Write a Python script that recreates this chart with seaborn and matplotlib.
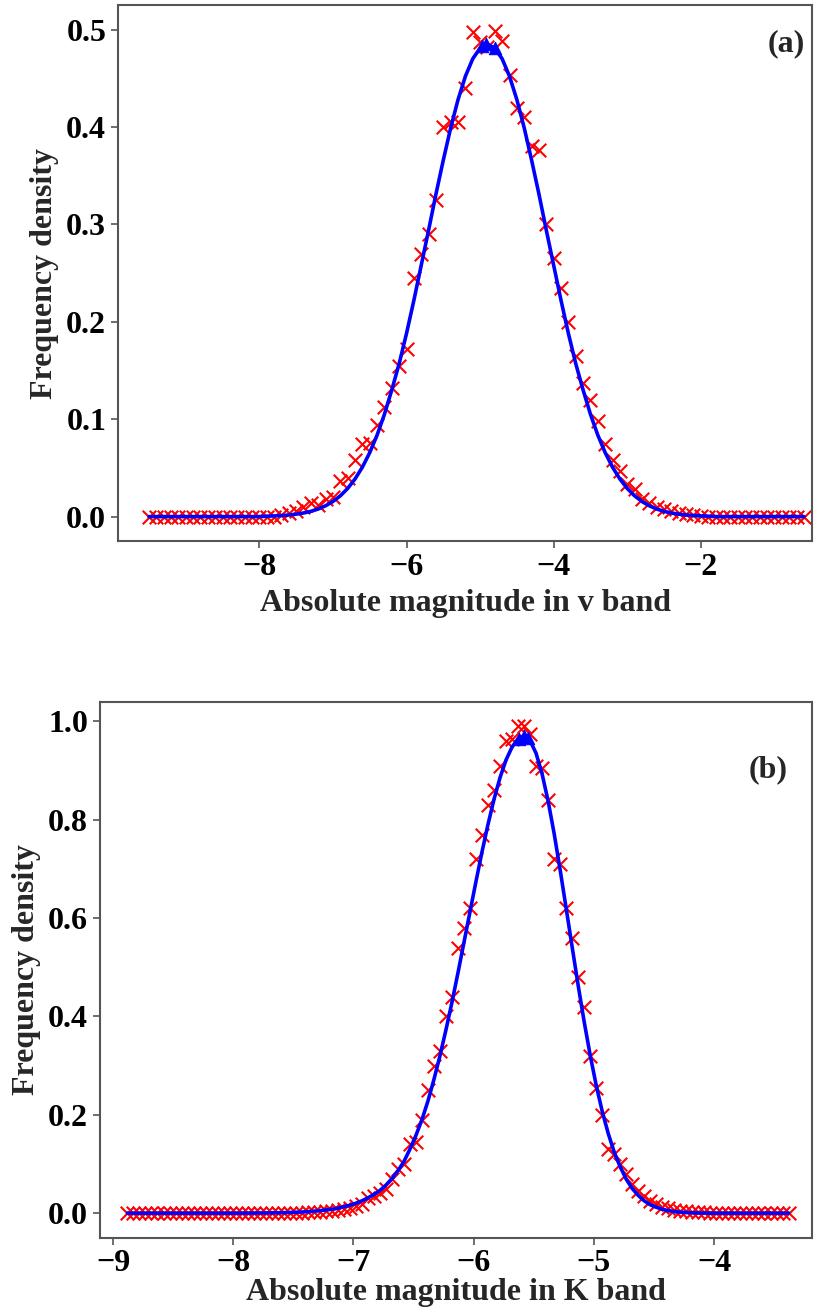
import numpy as np
import pandas as pd
import matplotlib
matplotlib.use("Agg")
import matplotlib.pyplot as plt
import seaborn as sns

sns.set_style("ticks")
plt.rcParams['font.family'] = ['Liberation Serif', 'DejaVu Serif']
plt.rcParams['font.weight'] = 'bold'

# ---------------- Panel (a): V band ----------------
a_x_start, a_x_stop, a_n = -9.5, -0.6, 90
a_points = [0.0]*18 + [
    0.002, 0.004, 0.006, 0.010, 0.014, 0.012, 0.018, 0.020, 0.037, 0.040,
    0.058, 0.075, 0.076, 0.094, 0.113, 0.132, 0.155, 0.172, 0.245, 0.270,
    0.290, 0.325, 0.400, 0.405, 0.405, 0.440, 0.498, 0.487, 0.482, 0.499,
    0.488, 0.453, 0.420, 0.410, 0.380, 0.376, 0.300, 0.266, 0.235, 0.200,
    0.165, 0.137, 0.120, 0.098, 0.075, 0.058, 0.047, 0.033, 0.028, 0.018,
    0.014, 0.010, 0.008, 0.006, 0.004, 0.003, 0.002, 0.001] + [0.0]*14
a_curve = [0.0]*16 + [
    0.0004, 0.0007, 0.0011, 0.0016, 0.0025, 0.0037, 0.0054, 0.0078, 0.0111, 0.0155,
    0.0213, 0.0289, 0.0386, 0.0507, 0.0656, 0.0836, 0.105, 0.130, 0.157, 0.188,
    0.222, 0.258, 0.294, 0.331, 0.366, 0.399, 0.428, 0.452, 0.470, 0.481,
    0.485, 0.481, 0.470, 0.452, 0.428, 0.399, 0.366, 0.331, 0.294, 0.258,
    0.222, 0.188, 0.157, 0.130, 0.105, 0.0836, 0.0656, 0.0507, 0.0386, 0.0289,
    0.0213, 0.0155, 0.0111, 0.0078, 0.0054, 0.0037, 0.0025, 0.0016, 0.0011, 0.0007,
    0.0004] + [0.0]*13
a_peak_x = [-4.97, -4.92, -4.80]
a_peak_y = [0.483, 0.485, 0.481]

# ---------------- Panel (b): K band ----------------
b_x_start, b_x_stop, b_n = -8.88, -3.38, 111
b_points = [0.0]*30 + [
    0.002, 0.003, 0.003, 0.004, 0.005, 0.006, 0.008, 0.010, 0.014, 0.018,
    0.030, 0.035, 0.040, 0.050, 0.070, 0.090, 0.100, 0.140, 0.145, 0.190,
    0.250, 0.300, 0.330, 0.400, 0.440, 0.540, 0.580, 0.620, 0.720, 0.770,
    0.830, 0.860, 0.910, 0.960, 0.965, 0.990, 0.990, 0.975, 0.910, 0.905,
    0.840, 0.720, 0.710, 0.620, 0.560, 0.480, 0.420, 0.320, 0.255, 0.200,
    0.130, 0.120, 0.100, 0.080, 0.060, 0.045, 0.035, 0.025, 0.018, 0.012,
    0.010, 0.007, 0.005, 0.004, 0.003, 0.002, 0.0015, 0.001] + [0.0]*13
b_curve = [0.0]*20 + [
    0.0001, 0.0002, 0.0003, 0.0004, 0.0006, 0.0008, 0.001, 0.0014, 0.0018, 0.0024,
    0.003, 0.004, 0.005, 0.0065, 0.008, 0.010, 0.013, 0.016, 0.020, 0.025,
    0.031, 0.038, 0.046, 0.057, 0.070, 0.086, 0.105, 0.130, 0.158, 0.190,
    0.228, 0.272, 0.320, 0.373, 0.429, 0.489, 0.551, 0.613, 0.675, 0.735,
    0.791, 0.842, 0.886, 0.922, 0.948, 0.965, 0.970, 0.961, 0.935, 0.893,
    0.838, 0.772, 0.698, 0.620, 0.541, 0.463, 0.389, 0.321, 0.260, 0.207,
    0.162, 0.124, 0.094, 0.069, 0.050, 0.036, 0.025, 0.017, 0.012, 0.008,
    0.005, 0.0033, 0.002, 0.0012, 0.0007, 0.0004, 0.0002, 0.0001] + [0.0]*13
b_peak_x = [-5.62, -5.58, -5.55]
b_peak_y = [0.965, 0.970, 0.966]

panels = [
    dict(x=np.linspace(a_x_start, a_x_stop, a_n), pts=a_points, curve=a_curve,
         px=a_peak_x, py=a_peak_y, label="(a)", label_pos=(0.99, 0.955),
         xlabel="Absolute magnitude in v band", xpad=5,
         xticks=[-8, -6, -4, -2], yticks=[0.0, 0.1, 0.2, 0.3, 0.4, 0.5],
         xlim=(-9.92, -0.49), ylim=(-0.025, 0.525),
         rect=[0.1436, 0.588, 0.8442, 0.408]),
    dict(x=np.linspace(b_x_start, b_x_stop, b_n), pts=b_points, curve=b_curve,
         px=b_peak_x, py=b_peak_y, label="(b)", label_pos=(0.966, 0.90),
         xlabel="Absolute magnitude in K band", xpad=0,
         xticks=[-9, -8, -7, -6, -5, -4], yticks=[0.0, 0.2, 0.4, 0.6, 0.8, 1.0],
         xlim=(-9.108, -3.185), ylim=(-0.0495, 1.04),
         rect=[0.1217, 0.0575, 0.8661, 0.408]),
]

fig = plt.figure(figsize=(8.22, 13.13), dpi=100)
for p in panels:
    ax = fig.add_axes(p["rect"])
    df = pd.DataFrame({"m": p["x"], "pts": p["pts"], "curve": p["curve"]})
    sns.scatterplot(data=df, x="m", y="pts", marker="x", color="red", s=95,
                    linewidth=1.5, ax=ax, zorder=2)
    sns.lineplot(data=df, x="m", y="curve", color="blue", lw=2.6, ax=ax,
                 zorder=3)
    sns.scatterplot(x=p["px"], y=p["py"], marker="^", color="blue", s=80,
                    edgecolor="blue", ax=ax, zorder=4)
    ax.set_xlim(*p["xlim"])
    ax.set_ylim(*p["ylim"])
    ax.set_xticks(p["xticks"])
    ax.set_yticks(p["yticks"])
    ax.set_yticklabels([f"{v:.1f}" for v in p["yticks"]])
    ax.set_xticklabels([f"\u2212{abs(v)}" for v in p["xticks"]])
    ax.tick_params(labelsize=23, colors="#555555", labelcolor="black", width=1.2, length=5)
    for lab in ax.get_xticklabels() + ax.get_yticklabels():
        lab.set_fontweight("bold")
    for s in ax.spines.values():
        s.set_color("#555555")
        s.set_linewidth(1.5)
    ax.set_xlabel(p["xlabel"], fontsize=23, fontweight="bold", labelpad=p["xpad"])
    ax.set_ylabel("Frequency density", fontsize=23, fontweight="bold", labelpad=5)
    ax.text(p["label_pos"][0], p["label_pos"][1], p["label"], transform=ax.transAxes,
            ha="right", va="top", fontsize=23, fontweight="bold")

fig.savefig("out.png", dpi=100)
